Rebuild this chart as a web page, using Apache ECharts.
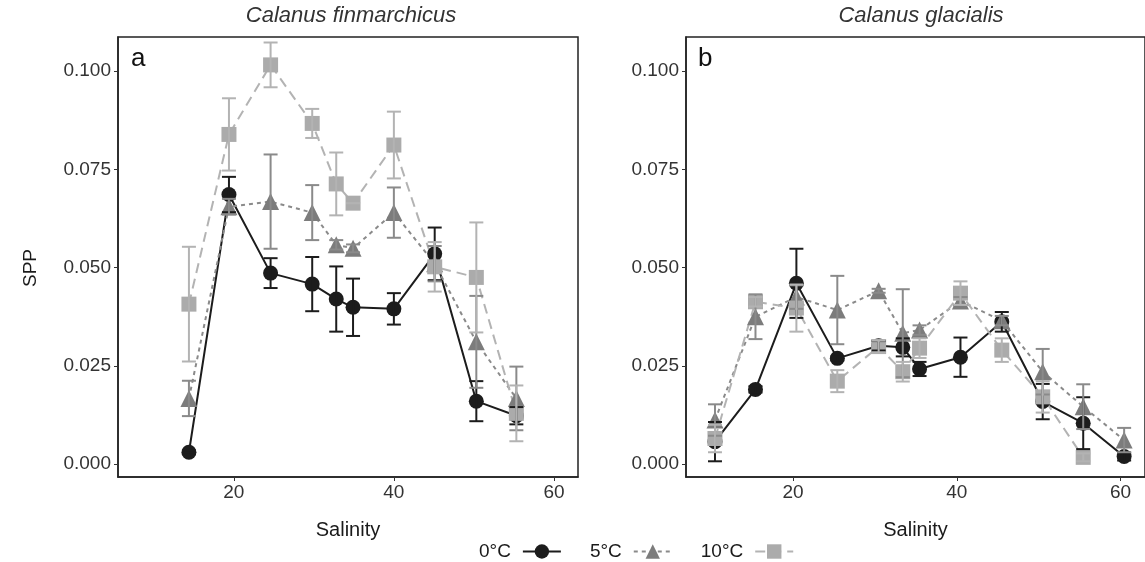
<!DOCTYPE html>
<html>
<head>
<meta charset="utf-8">
<script src="https://cdn.jsdelivr.net/npm/echarts@6/dist/echarts.min.js"></script>
<style>
html,body{margin:0;padding:0;background:#fff;}
#chart{width:1145px;height:562px;}
</style>
</head>
<body>
<div id="chart"></div>
<script>
// ---- Data ----
const salinityA = [14.4, 19.4, 24.6, 29.8, 32.8, 34.9, 40.0, 45.1, 50.3, 55.3];
const sppA_0  = [0.0030, 0.0686, 0.0486, 0.0458, 0.0420, 0.0399, 0.0395, 0.0535, 0.0160, 0.0123];
const seA_0   = [0.0005, 0.0045, 0.0038, 0.0069, 0.0083, 0.0073, 0.0040, 0.0067, 0.0051, 0.0022];
const sppA_5  = [0.0167, 0.0655, 0.0668, 0.0640, 0.0558, 0.0549, 0.0640, 0.0510, 0.0311, 0.0167];
const seA_5   = [0.0045, 0.0020, 0.0120, 0.0070, 0.0012, 0.0010, 0.0064, 0.0045, 0.0117, 0.0081];
const sppA_10 = [0.0407, 0.0839, 0.1016, 0.0867, 0.0713, 0.0664, 0.0812, 0.0502, 0.0475, 0.0129];
const seA_10  = [0.0146, 0.0092, 0.0057, 0.0037, 0.0080, 0.0000, 0.0085, 0.0063, 0.0140, 0.0071];

const salinityB = [10.45, 15.4, 20.4, 25.4, 30.45, 33.4, 35.45, 40.45, 45.5, 50.5, 55.45, 60.45];
const sppB_0  = [0.0057, 0.0190, 0.0460, 0.0269, 0.0301, 0.0297, 0.0242, 0.0272, 0.0362, 0.0159, 0.0104, 0.0019];
const seB_0   = [0.0050, 0.0008, 0.0088, 0.0005, 0.0012, 0.0023, 0.0018, 0.0050, 0.0025, 0.0045, 0.0066, 0.0010];
const sppB_5  = [0.0112, 0.0375, 0.0425, 0.0392, 0.0441, 0.0333, 0.0341, 0.0415, 0.0365, 0.0235, 0.0146, 0.0061];
const seB_5   = [0.0040, 0.0057, 0.0030, 0.0087, 0.0005, 0.0112, 0.0012, 0.0010, 0.0012, 0.0058, 0.0057, 0.0031];
const salinityB10 = [10.45, 15.4, 20.4, 25.4, 30.45, 33.4, 35.45, 40.45, 45.5, 50.5, 55.45];
const sppB_10 = [0.0065, 0.0413, 0.0397, 0.0211, 0.0299, 0.0235, 0.0295, 0.0435, 0.0290, 0.0171, 0.0017];
const seB_10  = [0.0035, 0.0012, 0.0060, 0.0028, 0.0015, 0.0025, 0.0025, 0.0030, 0.0030, 0.0040, 0.0010];

const yTicks = [0, 0.025, 0.05, 0.075, 0.1];
const xTicks = [20, 40, 60];
const groups = ['0°C', '5°C', '10°C'];
const panelTitles = ['Calanus finmarchicus', 'Calanus glacialis'];
const panelLetters = ['a', 'b'];

// ---- Styles ----
const FONT = 'Liberation Sans, Arial, sans-serif';
const sty = {
  '0°C':  {sym: 'circle',   size: 15, color: '#1c1c1c', line: '#1c1c1c', type: 'solid',  err: '#1c1c1c'},
  '5°C':  {sym: 'triangle', size: 17, color: '#7c7c7c', line: '#8a8a8a', type: [4, 4],   err: '#8a8a8a'},
  '10°C': {sym: 'rect',     size: 15, color: '#ababab', line: '#b3b3b3', type: [10, 6],  err: '#b3b3b3'}
};

function lineSeries(g, xs, ys, idx) {
  const s = sty[g];
  return {
    name: g, type: 'line', xAxisIndex: idx, yAxisIndex: idx,
    data: xs.map((x, i) => [x, ys[i]]),
    symbol: s.sym, symbolSize: s.size, showAllSymbol: true,
    itemStyle: {color: s.color, opacity: 1},
    lineStyle: {color: s.line, width: 2, type: s.type},
    emphasis: {disabled: true}, z: 2, animation: false
  };
}
function errSeries(g, xs, ys, se, idx) {
  const s = sty[g];
  return {
    name: g + ' SE', type: 'custom', xAxisIndex: idx, yAxisIndex: idx,
    data: xs.map((x, i) => [x, ys[i] - se[i], ys[i] + se[i]]),
    renderItem: function (params, api) {
      const x = api.value(0);
      const lo = api.coord([x, api.value(1)]);
      const hi = api.coord([x, api.value(2)]);
      const w = 7;
      const st = {stroke: s.err, lineWidth: 2};
      return {type: 'group', children: [
        {type: 'line', shape: {x1: lo[0], y1: lo[1], x2: hi[0], y2: hi[1]}, style: st},
        {type: 'line', shape: {x1: lo[0] - w, y1: lo[1], x2: lo[0] + w, y2: lo[1]}, style: st},
        {type: 'line', shape: {x1: hi[0] - w, y1: hi[1], x2: hi[0] + w, y2: hi[1]}, style: st}
      ]};
    },
    z: 3, animation: false, silent: true
  };
}

function xAxis(idx, min, max) {
  return {
    type: 'value', gridIndex: idx, min: min, max: max,
    name: 'Salinity', nameLocation: 'middle', nameGap: 43,
    nameTextStyle: {fontFamily: FONT, fontSize: 20, color: '#1a1a1a'},
    axisLine: {show: true, onZero: false, lineStyle: {color: '#222', width: 1.5}},
    axisTick: {show: true, length: 4, customValues: xTicks, lineStyle: {color: '#333', width: 1}},
    axisLabel: {customValues: xTicks, fontFamily: FONT, fontSize: 19, color: '#333', margin: 6},
    splitLine: {show: false}
  };
}
function yAxis(idx, withName) {
  return {
    type: 'value', gridIndex: idx, min: -0.0033, max: 0.1087,
    name: withName ? 'SPP' : '', nameLocation: 'middle', nameGap: 78, nameRotate: 90,
    nameTextStyle: {fontFamily: FONT, fontSize: 19, color: '#1a1a1a', padding: [0, 22, 0, 0]},
    axisLine: {show: true, onZero: false, lineStyle: {color: '#222', width: 1.5}},
    axisTick: {show: true, length: 4, customValues: yTicks, lineStyle: {color: '#333', width: 1}},
    axisLabel: {customValues: yTicks, fontFamily: FONT, fontSize: 19, color: '#333', margin: 7,
      formatter: v => v.toFixed(3)},
    splitLine: {show: false}
  };
}

const chart = echarts.init(document.getElementById('chart'), null, {renderer: 'canvas'});
chart.setOption({
  backgroundColor: '#fff',
  animation: false,
  title: [
    {text: panelTitles[0], left: 346, top: 0, textAlign: 'center',
     textStyle: {fontFamily: FONT, fontStyle: 'italic', fontWeight: 'normal', fontSize: 22, color: '#333'}},
    {text: panelTitles[1], left: 916, top: 0, textAlign: 'center',
     textStyle: {fontFamily: FONT, fontStyle: 'italic', fontWeight: 'normal', fontSize: 22, color: '#333'}},
    {text: panelLetters[0], left: 126, top: 41,
     textStyle: {fontFamily: FONT, fontWeight: 'normal', fontSize: 26, color: '#111'}},
    {text: panelLetters[1], left: 693, top: 41,
     textStyle: {fontFamily: FONT, fontWeight: 'normal', fontSize: 26, color: '#111'}}
  ],
  legend: {
    data: groups, top: 537, left: 474, align: 'right',
    itemWidth: 38, itemHeight: 18, itemGap: 28,
    textStyle: {fontFamily: FONT, fontSize: 19, color: '#1a1a1a', padding: [0, 7, 0, 0]},
    selectedMode: false
  },
  grid: [
    {left: 118, top: 37, width: 460, height: 440, show: true, borderColor: '#222', borderWidth: 1.5, containLabel: false},
    {left: 686, top: 37, width: 460, height: 440, show: true, borderColor: '#222', borderWidth: 1.5, containLabel: false}
  ],
  xAxis: [xAxis(0, 5.54, 63.0), xAxis(1, 6.91, 63.0)],
  yAxis: [yAxis(0, true), yAxis(1, false)],
  series: [
    lineSeries('0°C', salinityA, sppA_0, 0),
    lineSeries('5°C', salinityA, sppA_5, 0),
    lineSeries('10°C', salinityA, sppA_10, 0),
    errSeries('0°C', salinityA, sppA_0, seA_0, 0),
    errSeries('5°C', salinityA, sppA_5, seA_5, 0),
    errSeries('10°C', salinityA, sppA_10, seA_10, 0),
    lineSeries('0°C', salinityB, sppB_0, 1),
    lineSeries('5°C', salinityB, sppB_5, 1),
    lineSeries('10°C', salinityB10, sppB_10, 1),
    errSeries('0°C', salinityB, sppB_0, seB_0, 1),
    errSeries('5°C', salinityB, sppB_5, seB_5, 1),
    errSeries('10°C', salinityB10, sppB_10, seB_10, 1)
  ]
});
</script>
</body>
</html>
